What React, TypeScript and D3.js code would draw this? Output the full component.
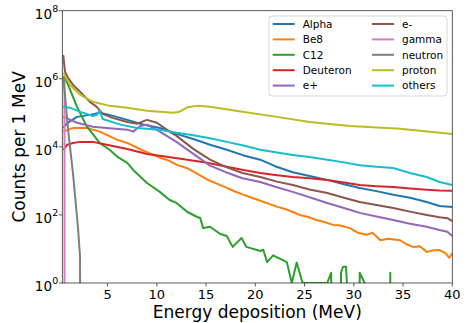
import React from 'react';
import * as d3 from 'd3';

type Pt = [number, number];

// energy (MeV), counts per 1 MeV ; 0 = empty bin
const alphaData: Pt[] = [
  [0.5, 3.6e4], [0.9, 5e4], [1.9, 7.6e4], [3.2, 8.7e4], [4.2, 1.0e5], [5.2, 8.7e4], [7.0, 6.2e4],
  [8.5, 4.6e4], [10.3, 3.6e4], [12, 2.4e4], [13.7, 1.7e4], [15.4, 1.15e4], [17.1, 8.2e3], [18.8, 5.6e3],
  [20.5, 4.2e3], [22, 2.7e3], [23.8, 1.8e3], [25.5, 1.4e3], [27.3, 1.07e3], [29, 800], [30.6, 620],
  [32.3, 500], [34, 390], [35.7, 320], [37.4, 240], [38.7, 182], [40, 170],
];
const be8Data: Pt[] = [
  [0.5, 2.8e4], [1.5, 3.6e4], [2.9, 3.6e4], [4.2, 2.8e4], [6.0, 1.6e4], [7.0, 1.3e4], [8.3, 8.5e3],
  [9.0, 7e3], [10.3, 4.8e3], [11.0, 4.2e3], [12.0, 3.0e3], [13.0, 2.4e3], [14.0, 1.7e3], [15.1, 1.1e3],
  [16.2, 800], [17.1, 620], [18.0, 480], [18.7, 400], [19.5, 330], [20.5, 260], [21.3, 215], [22.2, 175],
  [23.0, 150], [23.8, 122], [24.5, 100], [25.3, 88], [26.2, 71], [27.0, 62], [27.9, 51], [28.5, 50],
  [29.6, 41], [30.4, 30], [31.3, 26], [31.9, 30], [32.7, 18], [33.5, 20], [34.7, 18], [35.3, 14],
  [36.0, 11.5], [36.7, 12], [37.4, 8.2], [38.0, 9], [38.7, 9.3], [39.3, 7.5], [39.7, 5.5], [40, 7.6],
];
const c12Data: Pt[] = [
  [0.5, 1.2e6], [0.9, 7.6e5], [1.9, 1.5e5], [2.9, 3.9e4], [4.2, 1.3e4], [5.2, 8.2e3], [6.0, 5.1e3],
  [7.0, 3.4e3], [7.6, 2.1e3], [9.0, 870], [10.3, 475], [11.3, 275], [12.0, 225], [13.1, 122],
  [14.1, 87], [14.4, 81], [14.7, 41], [15.4, 45], [16.4, 28], [17.1, 24], [17.7, 11.5], [18.6, 21],
  [19.1, 11.5], [20.5, 8.7], [20.8, 9.5], [21.2, 4.1], [21.8, 6.5], [23.2, 4.1], [23.7, 1], [24.2, 4],
  [24.8, 1], [27.3, 1], [27.7, 2], [27.75, 0], [28.65, 0], [28.7, 2], [28.9, 3], [29.2, 3], [29.3, 1],
  [29.35, 0], [30.5, 0], [30.6, 2], [31.1, 1], [31.15, 0], [33.65, 0], [33.7, 2], [33.75, 0], [40, 0],
];
const deuteronData: Pt[] = [
  [0.5, 8.2e3], [0.9, 1.15e4], [1.5, 1.3e4], [2.2, 1.4e4], [3.5, 1.4e4], [4.9, 1.15e4], [7.0, 8.7e3],
  [9.0, 6.2e3], [11.0, 5.1e3], [13.1, 4.2e3], [15.1, 3.4e3], [17.1, 2.6e3], [18.8, 2.1e3], [20.5, 1.7e3],
  [22, 1.5e3], [23.8, 1.3e3], [25.5, 1.2e3], [27.3, 1.07e3], [29, 900], [30.6, 760], [32.3, 700],
  [34, 660], [35.7, 600], [37.4, 550], [38.7, 520], [40, 510],
];
const ePlusData: Pt[] = [
  [0.5, 7.6e4], [1.9, 5.1e4], [3.5, 3.9e4], [5.2, 3.5e4], [7.0, 3.2e4], [7.6, 2.8e4], [8.3, 4.1e4],
  [9.0, 4.5e4], [10.3, 2.8e4], [12.0, 1.4e4], [13.7, 6.2e3], [15.4, 2.8e3], [17.0, 1.8e3], [18.7, 1.2e3],
  [20.5, 930], [22.2, 650], [23.8, 475], [25.5, 330], [27.3, 225], [29, 160], [30.6, 115], [32.3, 90],
  [34.0, 71], [35.7, 55], [37.4, 45], [38.7, 36], [39.5, 32], [40, 24],
];
const eMinusData: Pt[] = [
  [0.5, 5e6], [0.67, 1.6e6], [0.98, 1.07e6], [1.5, 6.6e5], [2.2, 4.2e5], [3.2, 2.1e5], [3.9, 1.5e5],
  [4.5, 9.3e4], [5.5, 7.1e4], [7.0, 5.4e4], [8.0, 4.8e4], [9.0, 6.2e4], [10.0, 5.1e4], [11.3, 2.8e4],
  [12.0, 2.1e4], [13.7, 8.7e3], [15.4, 4.2e3], [17.1, 2.5e3], [18.7, 1.7e3], [20.5, 1.3e3], [22.2, 950],
  [23.8, 760], [25.5, 560], [27.3, 440], [29, 320], [30.6, 240], [32.3, 195], [34, 160], [35.7, 125],
  [37.4, 100], [38.7, 85], [39.5, 80], [40, 66],
];
const gammaData: Pt[] = [[0.62, 1e6], [0.63, 0]];
const neutronData: Pt[] = [[0.5, 1.2e6], [1.0, 3e4], [1.5, 1.5e3], [2.0, 40], [2.2, 6], [2.25, 0]];
const protonData: Pt[] = [
  [0.5, 1.5e6], [1.2, 6.6e5], [2.2, 3.4e5], [3.5, 2.1e5], [5.2, 1.6e5], [7.0, 1.4e5], [9.0, 1.15e5],
  [10.3, 1.07e5], [11.6, 1.0e5], [12.2, 1.05e5], [13.1, 1.45e5], [14.1, 1.6e5], [15.4, 1.5e5],
  [18.7, 1.07e5], [22.2, 7.6e4], [25.5, 5.4e4], [29.6, 4.1e4], [34.7, 3.4e4], [40, 2.4e4],
];
const othersData: Pt[] = [
  [0.5, 1.5e5], [1.2, 1.4e5], [2.5, 1.0e5], [3.5, 8.1e4], [3.9, 8.7e4], [4.2, 1.15e5], [4.5, 6.6e4],
  [6.3, 4.5e4], [8.0, 3.6e4], [10.3, 3.2e4], [12, 2.6e4], [13.7, 2.2e4], [15.4, 1.8e4], [17.1, 1.4e4],
  [18.8, 1.1e4], [20.5, 8.2e3], [22.2, 6.8e3], [23.8, 5.8e3], [25.5, 5e3], [27.3, 4.2e3], [29, 3.5e3],
  [30.6, 2.9e3], [32.3, 2.6e3], [34, 2.4e3], [35.7, 1.7e3], [37.4, 1.3e3], [38.7, 930], [40, 760],
];

const seriesNames = ['Alpha', 'Be8', 'C12', 'Deuteron', 'e+', 'e-', 'gamma', 'neutron', 'proton', 'others'];
const seriesData = [alphaData, be8Data, c12Data, deuteronData, ePlusData, eMinusData, gammaData, neutronData, protonData, othersData];
const seriesColors = ['#1f77b4', '#ff7f0e', '#2ca02c', '#d62728', '#9467bd', '#8c564b', '#e377c2', '#7f7f7f', '#bcbd22', '#17becf'];

const xTicks = [5, 10, 15, 20, 25, 30, 35, 40];
const yTickExps = [0, 2, 4, 6, 8];

const FONT = 'DejaVu Sans, sans-serif';

export default function App() {
  const left = 62.3, right = 452.3, top = 10.7, bottom = 283;
  const x = d3.scaleLinear().domain([0.4, 40]).range([left, right]);
  const y = d3.scaleLog().domain([1, 1e8]).range([bottom, top]);
  const line = d3.line<Pt>()
    .x(d => x(d[0]))
    .y(d => y(Math.max(d[1], 1e-6)));

  // legend
  const lgX = 269, lgY = 16, lgW = 178, lgH = 80;
  const rowH = 15.4;

  return (
    <svg width={467} height={323} style={{position: 'absolute', left: 0, top: 0, background: '#fff'}}>
      <defs>
        <clipPath id="plot">
          <rect x={left} y={top} width={right - left} height={bottom - top}/>
        </clipPath>
      </defs>

      <g clipPath="url(#plot)">
        {seriesData.map((d, i) => (
          <path key={seriesNames[i]} d={line(d) || ''} fill="none" stroke={seriesColors[i]}
                strokeWidth={2} strokeLinejoin="round"/>
        ))}
      </g>

      {/* spines */}
      <rect x={left} y={top} width={right - left} height={bottom - top} fill="none" stroke="#333" strokeWidth={0.8}/>

      {/* x axis */}
      {xTicks.map(t => (
        <g key={t}>
          <line x1={x(t)} x2={x(t)} y1={bottom} y2={bottom + 3.5} stroke="#333" strokeWidth={0.8}/>
          <text x={x(t)} y={299} textAnchor="middle" fontFamily={FONT} fontSize={13} fill="#000">{t}</text>
        </g>
      ))}
      <text x={(left + right) / 2} y={317.5} textAnchor="middle" fontFamily={FONT} fontSize={17}>Energy deposition (MeV)</text>

      {/* y axis */}
      {yTickExps.map(e => (
        <g key={e}>
          <line x1={left - 3.5} x2={left} y1={y(Math.pow(10, e))} y2={y(Math.pow(10, e))} stroke="#333" strokeWidth={0.8}/>
          <text x={52} y={y(Math.pow(10, e)) + 8} textAnchor="end" fontFamily={FONT} fontSize={13.5}>10</text>
          <text x={52.3} y={y(Math.pow(10, e)) + 1} textAnchor="start" fontFamily={FONT} fontSize={9.5}>{e}</text>
        </g>
      ))}
      <text transform={`translate(25,${(top + bottom) / 2}) rotate(-90)`} textAnchor="middle"
            fontFamily={FONT} fontSize={17}>Counts per 1 MeV</text>

      {/* legend */}
      <rect x={lgX} y={lgY} width={lgW} height={lgH} rx={3} fill="#fff" fillOpacity={0.8} stroke="#ccc" strokeWidth={0.8}/>
      {seriesNames.map((name, i) => {
        const col = Math.floor(i / 5), row = i % 5;
        const hx = col === 0 ? 272.7 : 372;
        const cy = 24 + row * rowH;
        return (
          <g key={name}>
            <line x1={hx} x2={hx + 22} y1={cy} y2={cy} stroke={seriesColors[i]} strokeWidth={2}/>
            <text x={hx + 30} y={cy + 3.8} fontFamily={FONT} fontSize={10.5}>{name}</text>
          </g>
        );
      })}
    </svg>
  );
}
